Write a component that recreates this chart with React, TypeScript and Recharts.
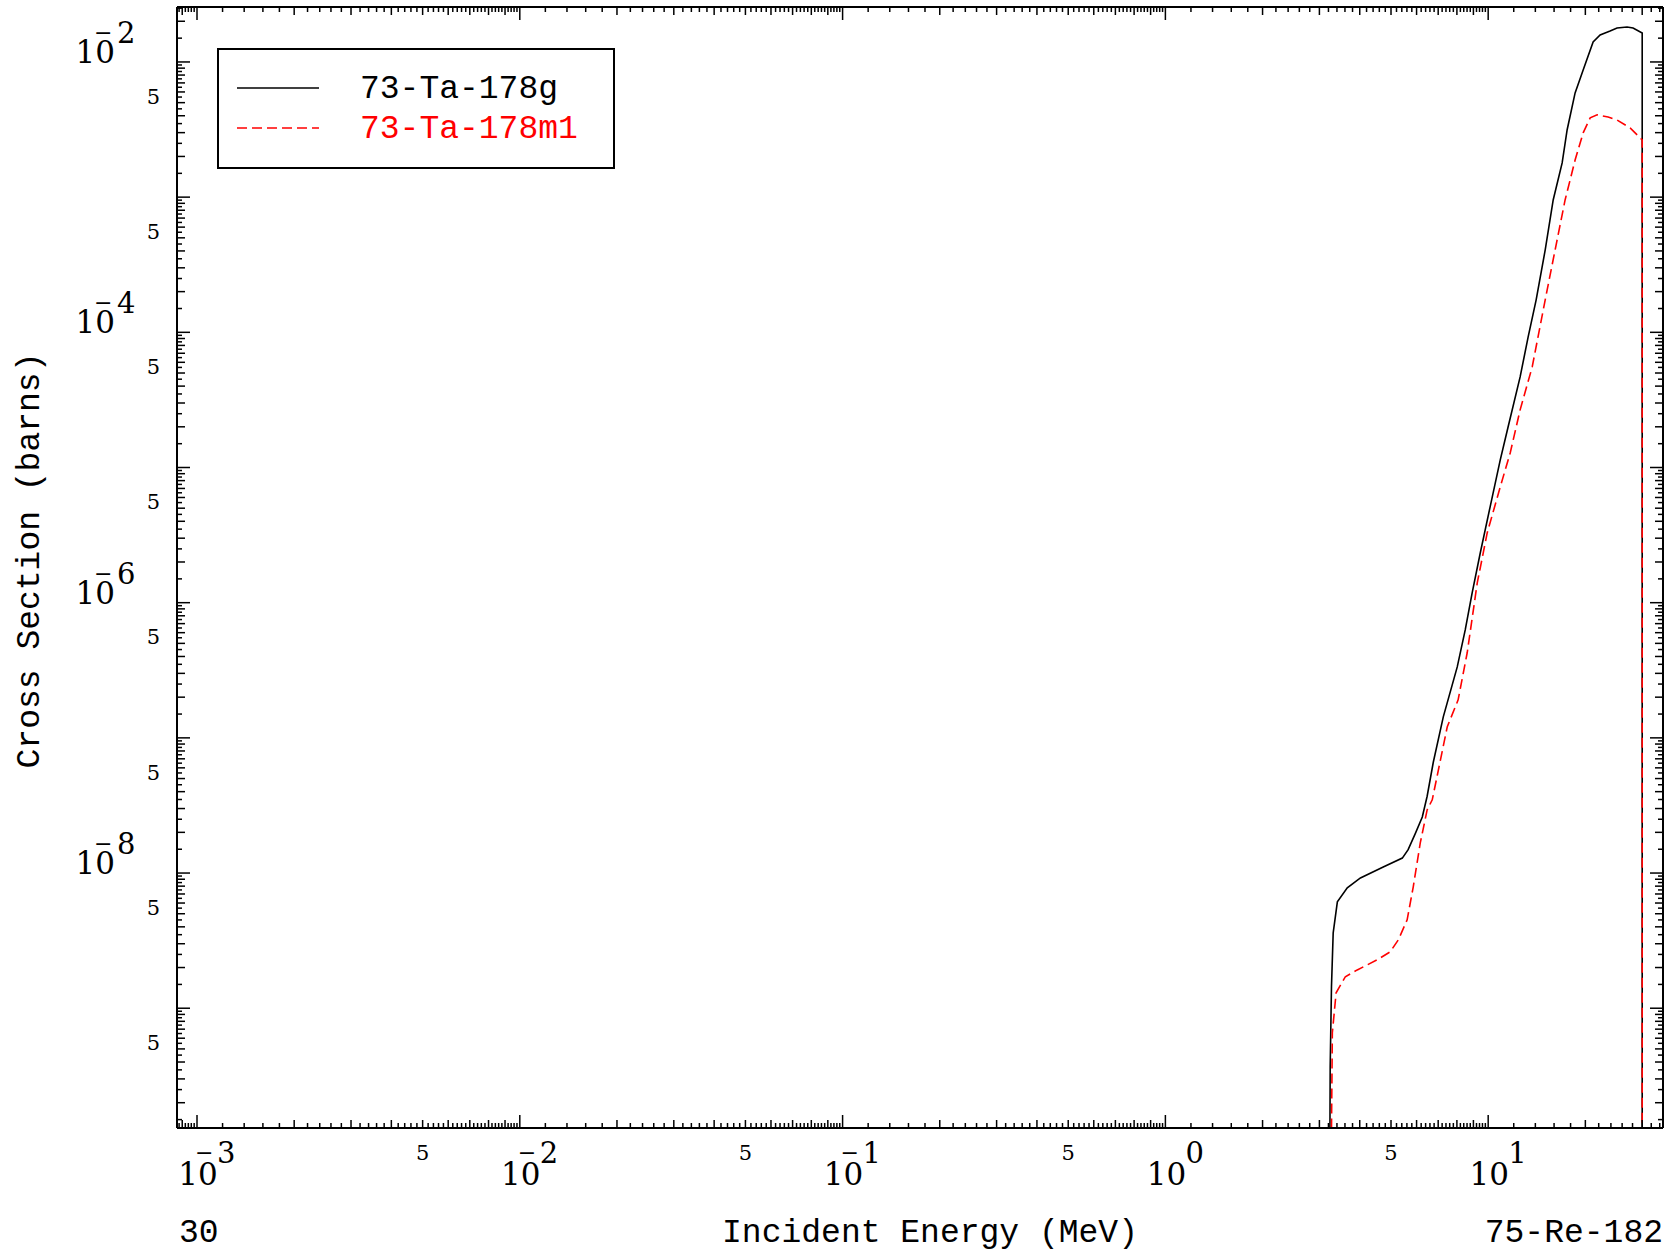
import React from 'react';
import { LineChart, Line, XAxis, YAxis, Legend } from 'recharts';

// incident energy (MeV) and cross section (barns)
const ta178gEnergy = [
  3.22, 3.24, 3.27, 3.31, 3.41, 3.66, 4.02, 4.73, 5.42, 5.65, 5.94, 6.25, 6.47, 6.76,
  7.26, 8.02, 8.49, 8.92, 9.45, 10.14, 10.9, 11.53, 12.56, 13.3, 14.08, 15.02, 15.9,
  16.95, 17.56, 18.59, 19.69, 21.14, 22.22, 23.02, 23.86, 25.07, 26.93, 28.11, 30, 30,
];
const ta178gXs = [
  1e-11, 3.69e-10, 1.44e-9, 3.61e-9, 6.12e-9, 7.78e-9, 9.2e-9, 1.11e-8, 1.29e-8, 1.49e-8,
  1.95e-8, 2.6e-8, 3.7e-8, 6.6e-8, 1.43e-7, 3.35e-7, 6.29e-7, 1.18e-6, 2.33e-6, 5.12e-6,
  1.14e-5, 2.0e-5, 4.68e-5, 9.25e-5, 1.74e-4, 4.07e-4, 9.53e-4, 1.79e-3, 3.14e-3, 5.9e-3,
  8.73e-3, 0.01406, 0.01585, 0.01639, 0.01695, 0.01784, 0.01815, 0.01784, 0.01639, 1e-11,
];

const ta178m1Energy = [
  3.24, 3.29, 3.38, 3.61, 3.93, 4.53, 4.97, 5.27, 5.61, 5.86, 6.16, 6.47, 6.71, 7.47,
  8.07, 8.61, 9.25, 9.93, 10.9, 11.7, 12.56, 13.69, 15.02, 16.12, 17.31, 18.59, 19.69,
  20.7, 21.76, 23.52, 25.07, 27.52, 30, 30,
];
const ta178m1Xs = [
  1e-11, 6.58e-10, 1.3e-9, 1.71e-9, 1.92e-9, 2.28e-9, 2.61e-9, 3.21e-9, 4.51e-9, 7.91e-9,
  1.67e-8, 2.93e-8, 3.48e-8, 1.21e-7, 1.91e-7, 4.26e-7, 1.4e-6, 3.28e-6, 7.19e-6, 1.28e-5,
  2.67e-5, 5.55e-5, 1.74e-4, 4.07e-4, 9.53e-4, 1.88e-3, 2.99e-3, 3.86e-3, 4.06e-3, 3.92e-3,
  3.72e-3, 3.25e-3, 2.65e-3, 1e-11,
];

const X_DOMAIN: [number, number] = [8.67e-4, 34.8];
const Y_DOMAIN: [number, number] = [1.3e-10, 0.0255];

const xDecades = [-4, -3, -2, -1, 0, 1];
const yDecades = [-10, -9, -8, -7, -6, -5, -4, -3, -2];
const xLabelDecades = [-3, -2, -1, 0, 1];
const yLabelDecades = [-2, -4, -6, -8];
const halfLabel = '5';

const xTitle = 'Incident Energy (MeV)';
const yTitle = 'Cross Section (barns)';
const leftNote = '30';
const rightNote = '75-Re-182';

const SERIF = '"DejaVu Serif", serif';
const MONO = '"Liberation Mono", monospace';

const decadeOf = (v: number) => Math.floor(Math.log10(v) + 1e-9);
const mantissaOf = (v: number) => Math.round((v / Math.pow(10, decadeOf(v))) * 10) / 10;
const tickLen = (m: number) => (m === 1 ? 13 : Number.isInteger(m) ? 8 : 5);

function buildTicks(decades: number[], step: number, [lo, hi]: [number, number]) {
  const out: number[] = [];
  decades.forEach((d) => {
    for (let i = 0; i < Math.round(9 / step); i++) {
      const v = Number(((1 + i * step) * Math.pow(10, d)).toPrecision(6));
      if (v >= lo && v <= hi) out.push(v);
    }
  });
  return out;
}

const xTicks = buildTicks(xDecades, 0.2, X_DOMAIN);
const yTicks = buildTicks(yDecades, 0.5, Y_DOMAIN);

const gRows = ta178gEnergy.map((e, i) => ({ e, v: ta178gXs[i] }));
const mRows = ta178m1Energy.map((e, i) => ({ e, v: ta178m1Xs[i] }));

function BottomTick({ x, y, payload }: any) {
  const v = payload.value;
  const d = decadeOf(v);
  const m = mantissaOf(v);
  return (
    <g>
      <line x1={x} y1={y} x2={x} y2={y - tickLen(m)} stroke="#000" strokeWidth={1.5} />
      {m === 1 && xLabelDecades.includes(d) && (
        <g fontFamily={SERIF} fill="#000">
          <text x={x + 1} y={y + 57} textAnchor="middle" fontSize={31}>10</text>
          {d < 0 && <text x={x - 2} y={y + 32} fontSize={22}>−</text>}
          <text x={x + 20} y={y + 35} fontSize={29}>{Math.abs(d)}</text>
        </g>
      )}
      {m === 5 && (
        <text x={x} y={y + 32} textAnchor="middle" fontFamily={SERIF} fontSize={21} fill="#000">
          {halfLabel}
        </text>
      )}
    </g>
  );
}

function TopTick({ x, y, payload }: any) {
  const m = mantissaOf(payload.value);
  return <line x1={x} y1={y} x2={x} y2={y + tickLen(m)} stroke="#000" strokeWidth={1.5} />;
}

function LeftTick({ x, y, payload }: any) {
  const v = payload.value;
  const d = decadeOf(v);
  const m = mantissaOf(v);
  return (
    <g>
      <line x1={x} y1={y} x2={x + tickLen(m)} y2={y} stroke="#000" strokeWidth={1.5} />
      {m === 1 && yLabelDecades.includes(d) && (
        <g fontFamily={SERIF} fill="#000">
          <text x={x - 62} y={y + 1} textAnchor="end" fontSize={31}>10</text>
          <text x={x - 83} y={y - 22} fontSize={22}>−</text>
          <text x={x - 60} y={y - 19} fontSize={29}>{-d}</text>
        </g>
      )}
      {m === 5 && (
        <text x={x - 17} y={y + 1} textAnchor="end" fontFamily={SERIF} fontSize={21} fill="#000">
          {halfLabel}
        </text>
      )}
    </g>
  );
}

function RightTick({ x, y, payload }: any) {
  const m = mantissaOf(payload.value);
  return <line x1={x} y1={y} x2={x - tickLen(m)} y2={y} stroke="#000" strokeWidth={1.5} />;
}

function BottomTexts({ viewBox }: any) {
  const { x, y, width } = viewBox;
  const base = y + 114;
  return (
    <g fontFamily={MONO} fontSize={33} fill="#000">
      <text x={x + 2} y={base}>{leftNote}</text>
      <text x={x + width / 2 + 10} y={base} textAnchor="middle">{xTitle}</text>
      <text x={x + width} y={base} textAnchor="end">{rightNote}</text>
    </g>
  );
}

function LeftTitle({ viewBox }: any) {
  const cx = viewBox.x + 39;
  const cy = viewBox.y + viewBox.height / 2 - 7;
  return (
    <text
      x={cx}
      y={cy}
      textAnchor="middle"
      transform={`rotate(-90, ${cx}, ${cy})`}
      fontFamily={MONO}
      fontSize={33}
      fill="#000"
    >
      {yTitle}
    </text>
  );
}

function LegendBox({ payload }: any) {
  return (
    <div
      style={{
        width: 398,
        height: 121,
        border: '2px solid #000',
        boxSizing: 'border-box',
        background: '#fff',
      }}
    >
      <svg width={394} height={117} style={{ display: 'block' }}>
        {(payload || []).map((item: any, i: number) => (
          <g key={item.value}>
            <line
              x1={18}
              x2={100}
              y1={38 + i * 40}
              y2={38 + i * 40}
              stroke={item.color}
              strokeWidth={1.6}
              strokeDasharray={item.payload?.strokeDasharray}
            />
            <text x={141} y={48 + i * 40} fontFamily={MONO} fontSize={33} fill={item.color}>
              {item.value}
            </text>
          </g>
        ))}
      </svg>
    </div>
  );
}

export default function App() {
  const axisLine = { stroke: '#000', strokeWidth: 2 };
  return (
    <div style={{ position: 'absolute', left: 0, top: 0, background: '#fff' }}>
      <LineChart width={1673} height={1251} margin={{ top: 0, right: 0, bottom: 0, left: 0 }}>
        <XAxis
          xAxisId="b"
          dataKey="e"
          type="number"
          scale="log"
          domain={X_DOMAIN}
          allowDataOverflow
          ticks={xTicks}
          interval={0}
          tickSize={0}
          tickMargin={0}
          tickLine={false}
          axisLine={axisLine}
          height={123}
          tick={BottomTick}
          label={{ content: BottomTexts }}
        />
        <XAxis
          xAxisId="t"
          orientation="top"
          dataKey="e"
          type="number"
          scale="log"
          domain={X_DOMAIN}
          allowDataOverflow
          ticks={xTicks}
          interval={0}
          tickSize={0}
          tickMargin={0}
          tickLine={false}
          axisLine={axisLine}
          height={7}
          tick={TopTick}
        />
        <YAxis
          yAxisId="l"
          type="number"
          scale="log"
          domain={Y_DOMAIN}
          allowDataOverflow
          ticks={yTicks}
          interval={0}
          tickSize={0}
          tickMargin={0}
          tickLine={false}
          axisLine={axisLine}
          width={177}
          tick={LeftTick}
          label={{ content: LeftTitle }}
        />
        <YAxis
          yAxisId="r"
          orientation="right"
          type="number"
          scale="log"
          domain={Y_DOMAIN}
          allowDataOverflow
          ticks={yTicks}
          interval={0}
          tickSize={0}
          tickMargin={0}
          tickLine={false}
          axisLine={axisLine}
          width={10}
          tick={RightTick}
        />
        <Legend
          layout="horizontal"
          verticalAlign="middle"
          align="center"
          content={LegendBox}
          wrapperStyle={{ left: 217, top: 48, width: 398, height: 121 }}
        />
        <Line
          xAxisId="b"
          yAxisId="l"
          data={gRows}
          dataKey="v"
          name="73-Ta-178g"
          type="linear"
          stroke="#000000"
          strokeWidth={1.6}
          dot={false}
          activeDot={false}
          isAnimationActive={false}
        />
        <Line
          xAxisId="b"
          yAxisId="l"
          data={mRows}
          dataKey="v"
          name="73-Ta-178m1"
          type="linear"
          stroke="#ff0000"
          strokeWidth={1.6}
          strokeDasharray="10 5"
          dot={false}
          activeDot={false}
          isAnimationActive={false}
        />
      </LineChart>
    </div>
  );
}
